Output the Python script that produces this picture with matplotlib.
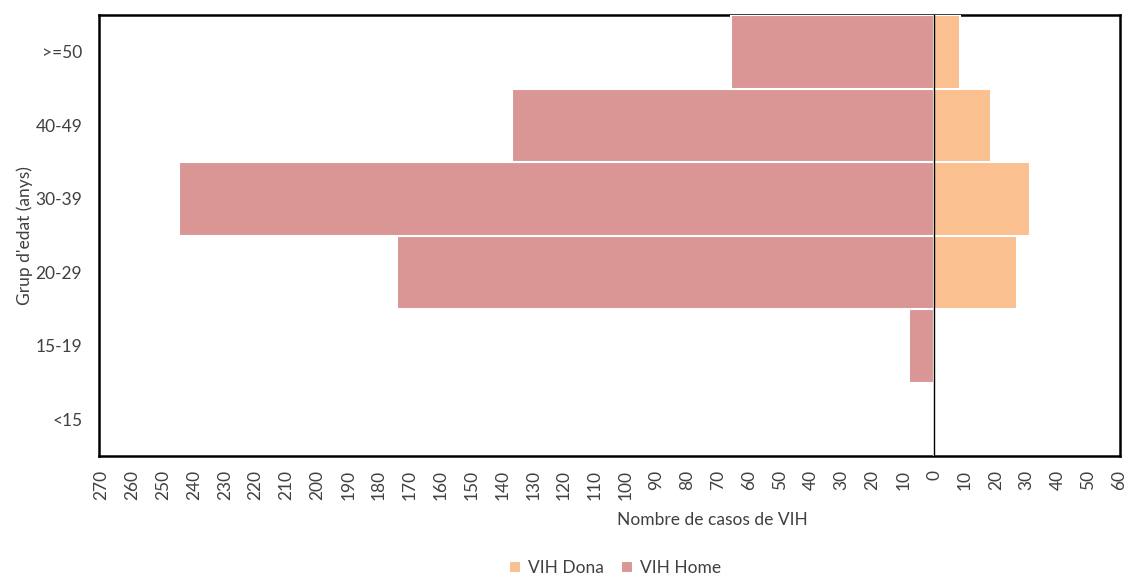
import numpy as np
import matplotlib.pyplot as plt

plt.rcParams['font.family'] = ['Lato', 'DejaVu Sans']

# grups d'edat i casos
grups = ['<15', '15-19', '20-29', '30-39', '40-49', '>=50']
vih_home = [0, 8, 174, 245, 137, 66]
vih_dona = [0, 0, 27, 31, 18.5, 8.5]
xticks = list(range(-270, 61, 10))

color_home = '#D99694'
color_dona = '#FAC090'

fig = plt.figure(figsize=(11.31, 5.78), dpi=100)
ax = fig.add_axes([99 / 1131, 1 - 456 / 578, (1120 - 99) / 1131, (456 - 15) / 578])

y = np.arange(len(grups))
ax.barh(y, [-v for v in vih_home], height=1.0, color=color_home,
        edgecolor='white', linewidth=1.5, zorder=3, label='VIH Home')
ax.barh(y, vih_dona, height=1.0, color=color_dona,
        edgecolor='white', linewidth=1.5, zorder=3, label='VIH Dona')
ax.axvline(0, color='black', linewidth=1, zorder=4)

ax.set_xlim(-270.8, 60.3)
ax.set_ylim(-0.5, len(grups) - 0.5)
ax.set_yticks(y)
ax.set_yticklabels(grups, fontsize=12.5, color='#404040')
ax.set_xticks(xticks)
ax.set_xticklabels([str(abs(t)) for t in xticks], rotation=90, fontsize=12.5, color='#404040')
ax.tick_params(length=0)
ax.tick_params(axis='x', pad=10)
ax.tick_params(axis='y', pad=12)

for s in ax.spines.values():
    s.set_linewidth(1.8)
    s.set_zorder(2)

ax.set_ylabel("Grup d'edat (anys)", fontsize=12.5, color='#404040', labelpad=2)
ax.set_xlabel('Nombre de casos de VIH', fontsize=12.5, color='#404040')
ax.xaxis.set_label_coords((712 - 99) / (1120 - 99), -0.127)

h, l = ax.get_legend_handles_labels()
fig.legend(h[::-1], l[::-1], loc='center', bbox_to_anchor=(615 / 1131, 1 - 568 / 578),
           ncol=2, frameon=False, fontsize=12.5, handlelength=0.7, handleheight=0.7,
           handletextpad=0.4, columnspacing=1.0, labelcolor='#404040')

fig.savefig('out.png', dpi=100)
